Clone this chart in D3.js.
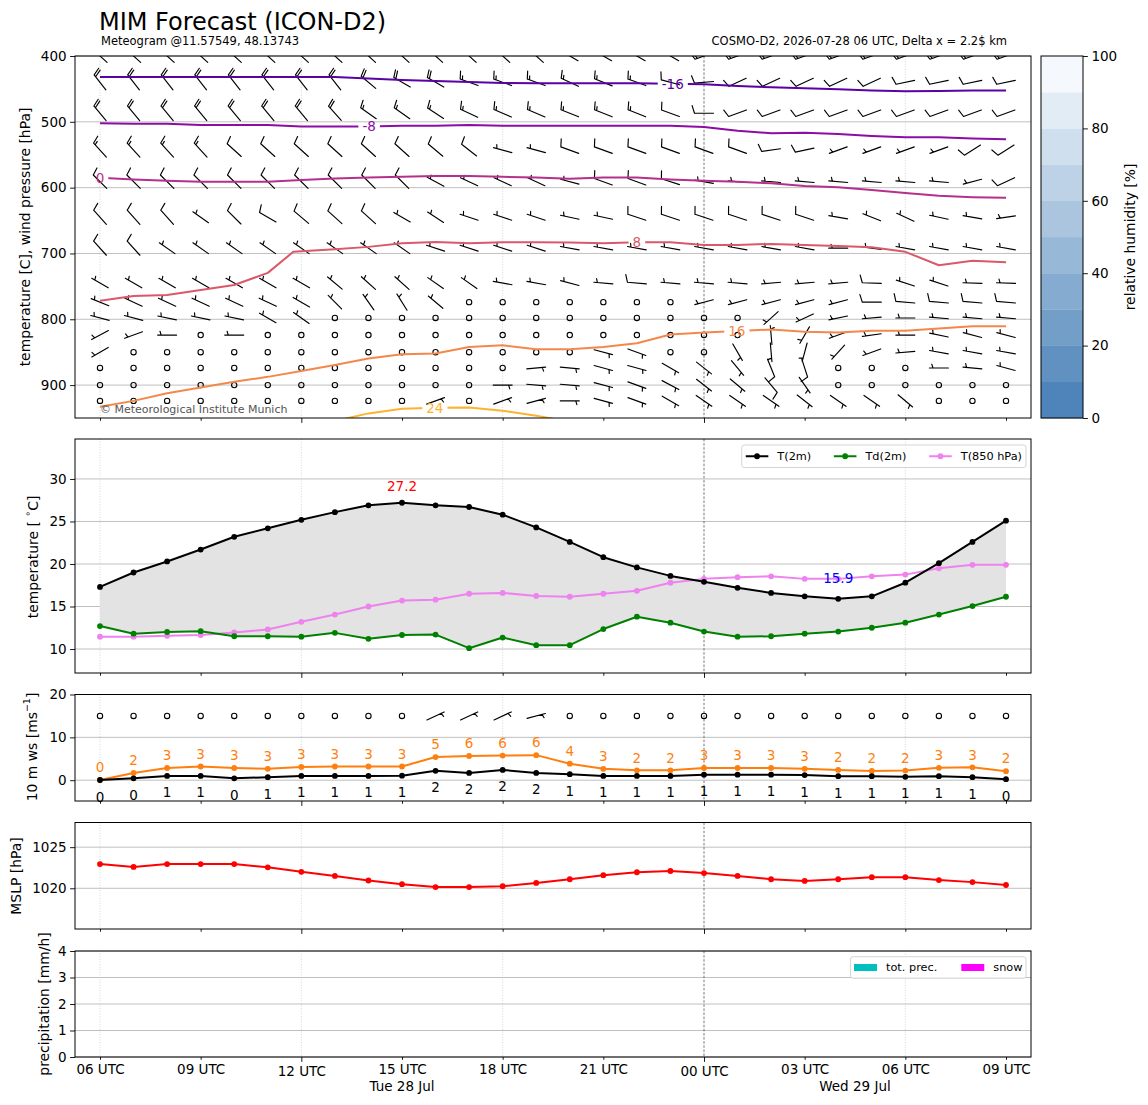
<!DOCTYPE html>
<html>
<head>
<meta charset="utf-8">
<script src="https://cdn.jsdelivr.net/npm/d3@7/dist/d3.min.js"></script>
<style>
html,body{margin:0;padding:0;background:#fff;}
svg{display:block;font-family:"DejaVu Sans",sans-serif;}
</style>
</head>
<body>
<svg id="chart" width="1148" height="1105"></svg>
<script>
// ================= DATA =================
const hours = [0,1,2,3,4,5,6,7,8,9,10,11,12,13,14,15,16,17,18,19,20,21,22,23,24,25,26,27];
const tickHours = [0,3,6,9,12,15,18,21,24,27];
const tickLabels = ["06 UTC","09 UTC","12 UTC","15 UTC","18 UTC","21 UTC","00 UTC","03 UTC","06 UTC","09 UTC"];
const majorTickHours = [6,18];
const gridHours = [0,6,12,24];
const midnightHours = [18];
const dayLabels = ["Tue 28 Jul","Wed 29 Jul"];
const dayStart = [0,18];
const dayEnd = [18,27];

// temperatures [°C]
const t2m  = [17.3,19.0,20.3,21.7,23.2,24.2,25.2,26.1,26.9,27.2,26.9,26.7,25.8,24.3,22.6,20.8,19.6,18.6,17.9,17.2,16.6,16.2,15.9,16.2,17.8,20.1,22.6,25.1];
const td2m = [12.7,11.8,12.0,12.1,11.5,11.5,11.45,11.9,11.2,11.65,11.7,10.1,11.35,10.45,10.45,12.35,13.8,13.1,12.05,11.45,11.5,11.8,12.05,12.5,13.1,14.05,15.05,16.15];
const t850 = [11.45,11.45,11.55,11.65,11.95,12.3,13.2,14.05,15.0,15.7,15.8,16.5,16.6,16.25,16.15,16.5,16.85,17.8,18.25,18.45,18.55,18.25,18.25,18.55,18.75,19.5,19.9,19.9];

// 10 m wind speed and gusts [m/s]
const ws10  = [0.05,0.45,1.0,1.0,0.45,0.7,1.0,1.0,1.0,1.05,2.2,1.7,2.4,1.7,1.4,1.0,1.0,1.0,1.3,1.3,1.3,1.2,0.95,0.95,0.8,0.95,0.7,0.25];
const gust10 = [0.05,1.7,2.85,3.2,2.85,2.65,3.1,3.2,3.2,3.2,5.4,5.65,5.75,5.85,3.85,2.65,2.3,2.3,2.85,2.85,2.85,2.65,2.4,2.15,2.25,2.9,3.0,2.1];
const sfcBarbDir = [0,0,0,0,0,0,0,0,0,0,65,65,65,75,0,0,0,0,0,0,0,0,0,0,0,0,0,0];
const sfcBarbSpd = [0,0,0,0,0,0,0,0,0,0,5,5,5,5,0,0,0,0,0,0,0,0,0,0,0,0,0,0];

// MSLP [hPa]
const mslp = [1022.95,1022.6,1022.95,1022.95,1022.95,1022.55,1022.0,1021.5,1020.95,1020.5,1020.15,1020.15,1020.25,1020.65,1021.1,1021.6,1021.95,1022.1,1021.85,1021.5,1021.1,1020.9,1021.1,1021.35,1021.35,1021.0,1020.75,1020.4];

// precipitation [mm/h]
const precipTot  = [0,0,0,0,0,0,0,0,0,0,0,0,0,0,0,0,0,0,0,0,0,0,0,0,0,0,0,0];
const precipSnow = [0,0,0,0,0,0,0,0,0,0,0,0,0,0,0,0,0,0,0,0,0,0,0,0,0,0,0,0];

// upper-air wind barbs: levels [hPa], direction [deg from], speed [kt]
const barbLevels = [400,440,487,543,591,645,692,745,774,798,824,850,874,900,924];
const barbDir = [
 [312,312,312,312,312,312,312,312,312,312,312,312,312,312,300,300,300,300,250,250,250,250,250,250,250,250,250,250],
 [322,322,322,322,322,322,322,322,310,300,300,290,290,290,295,292,290,285,265,245,245,245,245,245,258,258,258,258],
 [320,320,320,320,320,320,320,318,305,305,303,295,293,293,292,292,292,290,270,250,250,250,250,250,250,250,250,250],
 [318,318,318,318,312,312,312,312,312,312,310,308,285,285,290,290,290,290,290,290,262,258,250,250,250,250,238,238],
 [315,315,315,315,315,315,315,315,315,315,298,295,295,295,285,290,290,288,280,275,275,275,275,275,275,275,255,245],
 [318,318,318,305,315,300,310,312,312,300,303,288,288,288,282,282,288,288,288,288,288,288,280,292,295,282,280,262],
 [318,318,305,305,305,305,305,305,305,305,288,288,288,288,280,280,280,280,280,280,280,280,270,278,280,280,280,280],
 [300,300,300,300,300,300,300,310,312,312,305,305,280,280,285,275,275,275,275,275,265,265,265,272,288,288,272,272],
 [292,295,295,295,295,295,300,315,325,328,310,0,0,0,0,0,0,0,255,255,255,255,255,270,275,275,275,275],
 [285,285,282,282,282,300,305,0,0,0,0,0,0,0,0,0,0,0,0,0,228,245,258,265,270,275,275,275],
 [242,250,270,0,270,0,0,0,0,0,0,0,0,0,0,0,0,0,0,0,355,210,250,262,270,282,285,285],
 [240,0,0,0,0,0,0,0,0,0,0,0,0,0,0,105,110,0,0,150,175,195,222,250,265,280,280,280],
 [0,0,0,0,0,0,0,0,0,0,0,0,0,85,95,105,105,120,128,140,158,162,0,0,0,270,275,285],
 [0,0,0,0,0,0,0,0,0,0,0,0,90,95,95,105,110,118,128,130,140,145,0,0,0,0,0,0],
 [0,0,0,0,0,0,0,0,0,0,70,0,70,75,90,105,110,120,125,125,125,128,125,125,130,0,0,0]
];
const barbSpd = [
 [20,20,20,20,20,20,20,20,20,20,20,20,20,20,15,15,15,15,15,15,15,15,15,15,15,15,15,15],
 [20,20,20,20,20,20,20,20,20,20,20,15,15,15,15,15,15,10,10,10,10,10,10,10,10,10,10,10],
 [20,20,20,20,20,20,20,20,15,15,15,15,15,15,15,15,15,10,10,10,10,10,10,10,10,10,10,10],
 [15,15,15,15,10,10,10,10,10,10,10,10,5,5,10,10,10,10,10,10,10,10,5,5,5,5,10,10],
 [10,10,10,10,10,10,10,10,10,10,5,5,5,5,5,10,10,10,5,5,5,5,5,5,5,5,5,10],
 [10,10,10,5,10,10,10,10,10,5,5,5,5,5,5,5,10,10,10,10,10,10,5,5,5,5,5,5],
 [10,10,5,5,5,5,5,5,5,5,5,5,5,5,5,5,5,5,5,5,5,5,5,5,5,5,5,5],
 [5,5,5,5,5,5,5,5,5,5,5,5,5,5,5,5,10,5,5,5,5,5,5,10,5,5,5,5],
 [5,5,5,5,5,5,5,5,5,5,5,0,0,0,0,0,0,0,5,5,5,5,5,10,10,10,10,10],
 [5,5,5,5,5,5,5,0,0,0,0,0,0,0,0,0,0,0,0,0,5,5,5,5,5,5,5,5],
 [5,5,5,0,5,0,0,0,0,0,0,0,0,0,0,0,0,0,0,0,5,5,5,5,5,5,5,5],
 [5,0,0,0,0,0,0,0,0,0,0,0,0,0,0,5,5,0,0,5,5,5,5,5,5,5,5,5],
 [0,0,0,0,0,0,0,0,0,0,0,0,0,5,5,5,5,5,5,5,10,10,0,0,0,5,5,5],
 [0,0,0,0,0,0,0,0,0,0,0,0,5,5,5,5,5,5,5,5,10,5,0,0,0,0,0,0],
 [0,0,0,0,0,0,0,0,0,0,5,0,5,5,5,5,5,5,5,5,5,5,5,5,5,0,0,0]
];

// isotherms: pressure [hPa] of each temperature level over time
const isoLevels = [-16,-8,0,8,16,24];
const isoM16 = [432,432,432,432,432,432,432,432,434,436.5,438,439.5,441,441.5,441.5,441.5,441.5,442,443,445.5,447.5,449,450.5,452.5,453.5,453,452.5,452.5];
const isoM8  = [502,503,503,505,505,505,507,507,507,506,506,505,506,506,506,506,506,506,508,513.5,517.5,516.5,518.5,521.5,523.5,523.5,525.5,526.5];
const iso0   = [585,587.5,589.5,591,591,591,588.5,586,584.5,583.5,582.5,582.5,583.5,584.5,586.5,584.5,584.5,587.5,589.5,591,593.5,597.5,599.5,603.5,608,612.5,614.5,615.5];
const iso8Hours = [0,1,2,3,4,5,5.76,6,7,8,9,10,11,12,13,14,15,16,17,18,19,20,21,22,23,24,25,26,27];
const iso8   = [772,764.5,763,755.5,748,729.5,697.5,696.5,693.5,690,684.5,682.5,684.5,683,683,683.5,684.5,683,683,687,687,685.5,687,688.5,690.5,697.5,718,711,713.5];
const iso16  = [933,924,912.5,903.5,895,887.5,878.5,869.5,859.5,853,852,842,839.5,845.5,845.5,842,836.5,823,820,818,815.5,819,820,817.5,817.5,814,810.5,810.5];
const iso24Hours = [7.3,8,9,10,11,12,13,13.5];
const iso24  = [951,943,936,934.5,934,939,946.5,951];
const isoLabelHours = [17.07,8.02,0,16.0,18.98,9.98];

// relative humidity colour bar
const rhBounds = [0,10,20,30,40,50,60,70,80,90,100];
const rhTicks = [0,20,40,60,80,100];

// axis ticks
const p1Ticks = [400,500,600,700,800,900];
const p2Ticks = [10,15,20,25,30];
const p3Ticks = [0,10,20];
const p4Ticks = [1020,1025];
const p5Ticks = [0,1,2,3,4];

// ================= DRAWING =================
const svg = d3.select("#chart");
const FONT = "DejaVu Sans";
const TICKFS = 13.5;
const L0 = 75, R0 = 1031;
const X = d3.scaleLinear().domain([-0.745, 27.745]).range([L0, R0]);

const P = {
  p1:{top:56, bottom:418},
  p2:{top:439, bottom:673},
  p3:{top:694.5, bottom:801},
  p4:{top:822.5, bottom:929},
  p5:{top:951, bottom:1057}
};
const Y1 = d3.scaleLinear().domain([400,950]).range([P.p1.top,P.p1.bottom]);
const Y2 = d3.scaleLinear().domain([7.18,34.7]).range([P.p2.bottom,P.p2.top]);
const Y3 = d3.scaleLinear().domain([-4.85,20]).range([P.p3.bottom,P.p3.top]);
const Y4 = d3.scaleLinear().domain([1015.05,1028]).range([P.p4.bottom,P.p4.top]);
const Y5 = d3.scaleLinear().domain([0,4]).range([P.p5.bottom,P.p5.top]);

const defs = svg.append("defs");
Object.entries(P).forEach(([k,p])=>{
  defs.append("clipPath").attr("id","clip-"+k).append("rect")
    .attr("x",L0).attr("y",p.top).attr("width",R0-L0).attr("height",p.bottom-p.top);
});

function styleAxis(sel){
  sel.select(".domain").remove();
  sel.attr("font-family",FONT).attr("font-size",TICKFS);
  sel.selectAll(".tick line").attr("stroke","#000").attr("stroke-width",0.9);
  sel.selectAll(".tick text").attr("fill","#000");
}

function panelBase(key, Y, ticks){
  const p = P[key];
  const g = svg.append("g");
  g.selectAll(".hg").data(ticks).join("line")
    .attr("x1",L0).attr("x2",R0).attr("y1",d=>Y(d)).attr("y2",d=>Y(d))
    .attr("stroke","#b0b0b0").attr("stroke-width",0.8);
  g.selectAll(".vg").data(gridHours).join("line")
    .attr("x1",d=>X(d)).attr("x2",d=>X(d)).attr("y1",p.top).attr("y2",p.bottom)
    .attr("stroke","#c4c4c4").attr("stroke-width",0.7).attr("stroke-dasharray","1,1.6");
  g.selectAll(".mg").data(midnightHours).join("line")
    .attr("x1",d=>X(d)).attr("x2",d=>X(d)).attr("y1",p.top).attr("y2",p.bottom)
    .attr("stroke","#555").attr("stroke-width",0.8).attr("stroke-dasharray","2.5,1.6");
  return g;
}

function panelFrame(key, Y, ticks, withLabels){
  const p = P[key];
  svg.append("rect").attr("x",L0).attr("y",p.top).attr("width",R0-L0).attr("height",p.bottom-p.top)
    .attr("fill","none").attr("stroke","#000").attr("stroke-width",1);
  svg.append("g").attr("transform",`translate(${L0},0)`)
    .call(d3.axisLeft(Y).tickValues(ticks).tickSize(4.9).tickPadding(3.5).tickFormat(d3.format("d")))
    .call(styleAxis);
  const fmt = h => withLabels ? tickLabels[tickHours.indexOf(h)] : "";
  const minor = tickHours.filter(h=>!majorTickHours.includes(h));
  svg.append("g").attr("transform",`translate(0,${p.bottom})`)
    .call(d3.axisBottom(X).tickValues(minor).tickSize(2.8).tickPadding(4.9).tickFormat(fmt))
    .call(styleAxis);
  svg.append("g").attr("transform",`translate(0,${p.bottom})`)
    .call(d3.axisBottom(X).tickValues(majorTickHours).tickSize(4.9).tickPadding(4.9).tickFormat(fmt))
    .call(styleAxis);
}

function yLabel(x, y, parts){
  const t = svg.append("text").attr("transform",`translate(${x},${y}) rotate(-90)`)
    .attr("text-anchor","middle").attr("dominant-baseline","central")
    .attr("font-family",FONT).attr("font-size",13.9).attr("fill","#000");
  parts.forEach(pt=>{
    const ts = t.append("tspan").text(pt.t);
    if(pt.sup){ ts.attr("baseline-shift","super").attr("font-size",9.5); }
  });
}

// wind barb (matplotlib geometry, pivot middle)
const BL = 19;
function barbSegments(dir, spd){
  const H = 0.4*BL, Wd = 0.25*BL, SP = 0.125*BL;
  const endy = -BL/2;
  let segs = [[[0,endy],[0,endy+BL]]];
  let nFull = Math.floor(spd/10);
  let half = (spd - nFull*10) >= 5;
  let off = BL;
  for(let i=0;i<nFull;i++){ segs.push([[0,endy+off],[H,endy+off+Wd/2]]); off -= SP; }
  if(half){ if(off===BL) off -= 1.5*SP; segs.push([[0,endy+off],[H/2,endy+off+Wd/4]]); }
  return segs;
}
function drawBarb(g, cx, cy, dir, spd){
  if(spd < 5){
    g.append("circle").attr("cx",cx).attr("cy",cy).attr("r",0.14*BL)
      .attr("fill","none").attr("stroke","#000").attr("stroke-width",1.1);
    return;
  }
  const th = -dir*Math.PI/180, c = Math.cos(th), s = Math.sin(th);
  const tr = ([x,y]) => [cx + x*c - y*s, cy - (x*s + y*c)];
  const d = barbSegments(dir,spd).map(seg=>{
    const a = tr(seg[0]), b = tr(seg[1]);
    return `M${a[0].toFixed(2)},${a[1].toFixed(2)}L${b[0].toFixed(2)},${b[1].toFixed(2)}`;
  }).join("");
  g.append("path").attr("d",d).attr("fill","none").attr("stroke","#000").attr("stroke-width",1.15).attr("stroke-linecap","round");
}

// ---------- titles ----------
svg.append("text").attr("x",99).attr("y",30).attr("font-family",FONT).attr("font-size",24).attr("fill","#000").text("MIM Forecast (ICON-D2)");
svg.append("text").attr("x",101).attr("y",45).attr("font-family",FONT).attr("font-size",11.5).attr("fill","#000").text("Meteogram @11.57549, 48.13743");
svg.append("text").attr("x",1007).attr("y",45).attr("text-anchor","end").attr("font-family",FONT).attr("font-size",11.5).attr("fill","#000").text("COSMO-D2, 2026-07-28 06 UTC, Delta x = 2.2$ km");

// ---------- panel 1 ----------
panelBase("p1", Y1, p1Ticks);
const g1 = svg.append("g").attr("clip-path","url(#clip-p1)");
barbLevels.forEach((lev,r)=>{
  hours.forEach((h,i)=>{ drawBarb(g1, X(h), Y1(lev), barbDir[r][i], barbSpd[r][i]); });
});

const isoColors = ["#5a02a4","#8c0ca5","#b5308c","#d9596a","#f3884a","#fcb331"];
const isoSeries = [
  {hrs:hours, p:isoM16}, {hrs:hours, p:isoM8}, {hrs:hours, p:iso0},
  {hrs:iso8Hours, p:iso8}, {hrs:hours, p:iso16}, {hrs:iso24Hours, p:iso24}
];
const mask = defs.append("mask").attr("id","isoMask").attr("maskUnits","userSpaceOnUse")
  .attr("x",0).attr("y",0).attr("width",1148).attr("height",1105);
mask.append("rect").attr("x",0).attr("y",0).attr("width",1148).attr("height",1105).attr("fill","#fff");
const gIso = g1.append("g").attr("mask","url(#isoMask)");
const gIsoLab = g1.append("g");
const isoLine = d3.line().x(d=>X(d[0])).y(d=>Y1(d[1]));
isoSeries.forEach((s,k)=>{
  const pts = s.hrs.map((h,i)=>[h, s.p[i]]);
  gIso.append("path").attr("d",isoLine(pts)).attr("fill","none")
    .attr("stroke",isoColors[k]).attr("stroke-width",2).attr("stroke-linejoin","round");
  const lh = isoLabelHours[k];
  const lp = d3.scaleLinear().domain(s.hrs).range(s.p)(lh);
  const tx = X(lh), ty = Y1(lp);
  const t = gIsoLab.append("text").attr("x",tx).attr("y",ty).attr("text-anchor","middle")
    .attr("dominant-baseline","central").attr("font-family",FONT).attr("font-size",13.5)
    .attr("fill",isoColors[k]).text(d3.format("d")(isoLevels[k]).replace("−","-"));
  const bb = t.node().getBBox();
  mask.append("rect").attr("x",bb.x-4).attr("y",bb.y-2).attr("width",bb.width+8).attr("height",bb.height+4).attr("fill","#000");
});
svg.append("text").attr("x",100).attr("y",413).attr("font-family",FONT).attr("font-size",11).attr("fill","#555")
  .text("© Meteorological Institute Munich");
panelFrame("p1", Y1, p1Ticks, false);
yLabel(25, 237, [{t:"temperature [C], wind pressure [hPa]"}]);

// colour bar
const CB = d3.scaleLinear().domain([0,100]).range([418,56]);
const cbCol = d3.interpolateRgb("#4e84b9","#f5f9fd");
const cbX = 1041, cbW = 42;
svg.append("g").selectAll("rect").data(d3.pairs(rhBounds)).join("rect")
  .attr("x",cbX).attr("width",cbW).attr("y",d=>CB(d[1])).attr("height",d=>CB(d[0])-CB(d[1])+0.3)
  .attr("fill",(d,i)=>cbCol(i/(rhBounds.length-2)));
svg.append("rect").attr("x",cbX).attr("y",56).attr("width",cbW).attr("height",362)
  .attr("fill","none").attr("stroke","#000").attr("stroke-width",1);
svg.append("g").attr("transform",`translate(${cbX+cbW},0)`)
  .call(d3.axisRight(CB).tickValues(rhTicks).tickSize(4.9).tickPadding(3.5)).call(styleAxis);
yLabel(1130, 237, [{t:"relative humidity [%]"}]);

// ---------- panel 2 ----------
panelBase("p2", Y2, p2Ticks);
const g2 = svg.append("g").attr("clip-path","url(#clip-p2)");
g2.append("path").datum(hours)
  .attr("d",d3.area().x(h=>X(h)).y0((h,i)=>Y2(td2m[i])).y1((h,i)=>Y2(t2m[i])))
  .attr("fill","#e3e3e3");
const tSeries = [
  {name:"T(2m)", v:t2m, color:"#000000"},
  {name:"Td(2m)", v:td2m, color:"#008000"},
  {name:"T(850 hPa)", v:t850, color:"#ee82ee"}
];
function lineWithMarkers(g, vals, Y, color){
  g.append("path").datum(vals).attr("d",d3.line().x((d,i)=>X(hours[i])).y(d=>Y(d)))
    .attr("fill","none").attr("stroke",color).attr("stroke-width",2).attr("stroke-linejoin","round");
  g.append("g").selectAll("circle").data(vals).join("circle")
    .attr("cx",(d,i)=>X(hours[i])).attr("cy",d=>Y(d)).attr("r",2.9).attr("fill",color);
}
[tSeries[2],tSeries[1],tSeries[0]].forEach(s=>lineWithMarkers(g2, s.v, Y2, s.color));
const iMax = d3.maxIndex(t2m), iMin = d3.minIndex(t2m);
g2.append("text").attr("x",X(hours[iMax])).attr("y",Y2(t2m[iMax]+2.0)).attr("text-anchor","middle")
  .attr("dominant-baseline","central").attr("font-family",FONT).attr("font-size",13.5).attr("fill","#ff0000")
  .text(d3.format(".1f")(t2m[iMax]));
g2.append("text").attr("x",X(hours[iMin])).attr("y",Y2(t2m[iMin]+2.5)).attr("text-anchor","middle")
  .attr("dominant-baseline","central").attr("font-family",FONT).attr("font-size",13.5).attr("fill","#0000ff")
  .text(d3.format(".1f")(t2m[iMin]));
(function(){
  const fs = 11.3, hl = 22.6, pad = 9, colsp = 22.6, h = 22.5;
  const lg = svg.append("g");
  const box = lg.append("rect");
  let x = 0;
  tSeries.forEach((s,i)=>{
    const it = lg.append("g");
    it.append("line").attr("x1",x).attr("x2",x+hl).attr("y1",0).attr("y2",0).attr("stroke",s.color).attr("stroke-width",2);
    it.append("circle").attr("cx",x+hl/2).attr("cy",0).attr("r",2.9).attr("fill",s.color);
    const t = it.append("text").attr("x",x+hl+pad).attr("y",0).attr("dominant-baseline","central")
      .attr("font-family",FONT).attr("font-size",fs).attr("fill","#000").text(s.name);
    x += hl + pad + t.node().getComputedTextLength() + (i<tSeries.length-1?colsp:0);
  });
  const bw = x + 8, bx = 1026 - bw, by = 445;
  box.attr("x",-4).attr("y",-h/2).attr("width",bw).attr("height",h).attr("rx",2.5)
    .attr("fill","#fff").attr("fill-opacity",0.85).attr("stroke","#d0d0d0").attr("stroke-width",0.9);
  lg.attr("transform",`translate(${bx+4},${by+h/2})`);
})();
panelFrame("p2", Y2, p2Ticks, false);
yLabel(32.5, 557, [{t:"temperature [ "},{t:"∘",sup:true},{t:"C]"}]);

// ---------- panel 3 ----------
panelBase("p3", Y3, p3Ticks);
const g3 = svg.append("g").attr("clip-path","url(#clip-p3)");
hours.forEach((h,i)=>drawBarb(g3, X(h), Y3(15), sfcBarbDir[i], sfcBarbSpd[i]));
lineWithMarkers(g3, gust10, Y3, "#ff7f0e");
lineWithMarkers(g3, ws10, Y3, "#000000");
svg.append("g").selectAll("text").data(gust10).join("text")
  .attr("x",(d,i)=>X(hours[i])).attr("y",d=>Y3(d+3.0)).attr("text-anchor","middle").attr("dominant-baseline","central")
  .attr("font-family",FONT).attr("font-size",13.5).attr("fill","#ff7f0e").text(d=>Math.round(d));
svg.append("g").selectAll("text").data(ws10).join("text")
  .attr("x",(d,i)=>X(hours[i])).attr("y",d=>Y3(d-3.85)).attr("text-anchor","middle").attr("dominant-baseline","central")
  .attr("font-family",FONT).attr("font-size",13.5).attr("fill","#000").text(d=>Math.round(d));
panelFrame("p3", Y3, p3Ticks, false);
yLabel(32, 747, [{t:"10 m ws [ms"},{t:"−1",sup:true},{t:"]"}]);

// ---------- panel 4 ----------
panelBase("p4", Y4, p4Ticks);
const g4 = svg.append("g").attr("clip-path","url(#clip-p4)");
lineWithMarkers(g4, mslp, Y4, "#ff0000");
panelFrame("p4", Y4, p4Ticks, false);
yLabel(16, 876, [{t:"MSLP [hPa]"}]);

// ---------- panel 5 ----------
panelBase("p5", Y5, p5Ticks);
const g5 = svg.append("g").attr("clip-path","url(#clip-p5)");
const bw5 = (X(1)-X(0))*0.8;
g5.selectAll(".pt").data(precipTot).join("rect").attr("x",(d,i)=>X(hours[i])-bw5/2).attr("width",bw5)
  .attr("y",d=>Y5(d)).attr("height",d=>Y5(0)-Y5(d)).attr("fill","#00bfbf");
g5.selectAll(".ps").data(precipSnow).join("rect").attr("x",(d,i)=>X(hours[i])-bw5/2).attr("width",bw5)
  .attr("y",d=>Y5(d)).attr("height",d=>Y5(0)-Y5(d)).attr("fill","#ff00ff");
(function(){
  const items = [{name:"tot. prec.", color:"#00bfbf"},{name:"snow", color:"#ff00ff"}];
  const fs = 11.3, hl = 23, pad = 9, colsp = 24, h = 21.6;
  const lg = svg.append("g");
  const box = lg.append("rect");
  let x = 0;
  items.forEach((s,i)=>{
    lg.append("rect").attr("x",x).attr("y",-3.5).attr("width",hl).attr("height",7).attr("fill",s.color);
    const t = lg.append("text").attr("x",x+hl+pad).attr("y",0).attr("dominant-baseline","central")
      .attr("font-family",FONT).attr("font-size",fs).attr("fill","#000").text(s.name);
    x += hl + pad + t.node().getComputedTextLength() + (i<items.length-1?colsp:0);
  });
  const bw = x + 7, bx = 1026 - bw, by = 956.7;
  box.attr("x",-3.5).attr("y",-h/2).attr("width",bw).attr("height",h).attr("rx",2.5)
    .attr("fill","#fff").attr("fill-opacity",0.85).attr("stroke","#d0d0d0").attr("stroke-width",0.9);
  lg.attr("transform",`translate(${bx+3.5},${by+h/2})`);
})();
panelFrame("p5", Y5, p5Ticks, true);
yLabel(43.5, 1004, [{t:"precipitation [mm/h]"}]);
svg.append("g").selectAll("text").data(dayLabels).join("text")
  .attr("x",(d,i)=>X((dayStart[i]+dayEnd[i])/2)).attr("y",1091).attr("text-anchor","middle")
  .attr("font-family",FONT).attr("font-size",TICKFS).attr("fill","#000").text(d=>d);
</script>
</body>
</html>
